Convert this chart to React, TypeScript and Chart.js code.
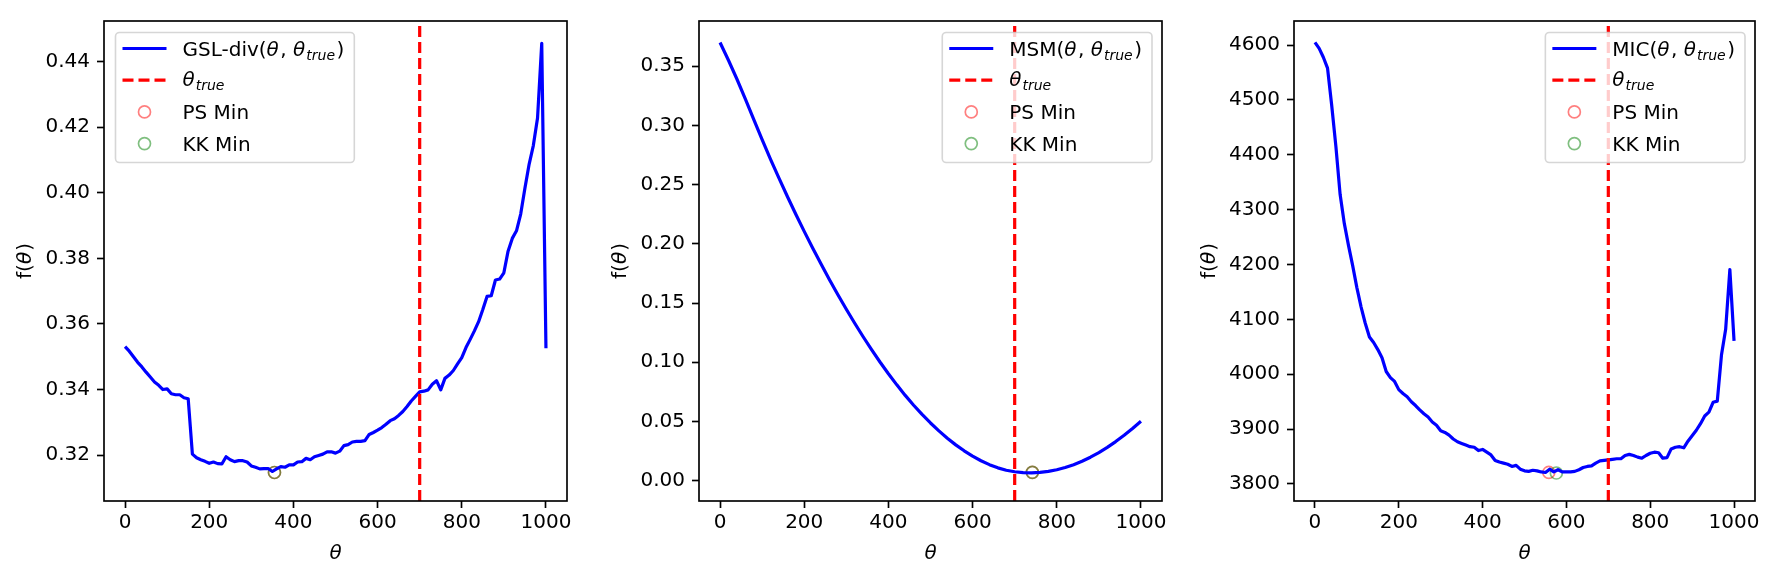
import React, { useEffect, useRef } from "react";
import { Chart, registerables } from "chart.js";

Chart.register(...registerables);

const FONT = "'DejaVu Sans', 'Liberation Sans', sans-serif";

// θ grid of the sampled objectives
const theta: number[] = [
  0, 10, 20, 30, 40, 50, 60, 70, 80, 90,
  100, 110, 120, 130, 140, 150, 160, 170, 180, 190,
  200, 210, 220, 230, 240, 250, 260, 270, 280, 290,
  300, 310, 320, 330, 340, 350, 360, 370, 380, 390,
  400, 410, 420, 430, 440, 450, 460, 470, 480, 490,
  500, 510, 520, 530, 540, 550, 560, 570, 580, 590,
  600, 610, 620, 630, 640, 650, 660, 670, 680, 690,
  700, 710, 720, 730, 740, 750, 760, 770, 780, 790,
  800, 810, 820, 830, 840, 850, 860, 870, 880, 890,
  900, 910, 920, 930, 940, 950, 960, 970, 980, 990,
  1000,
];

const thetaMsm: number[] = [
  0, 20, 40, 60, 80, 100, 120, 140, 160, 180,
  200, 220, 240, 260, 280, 300, 320, 340, 360, 380,
  400, 420, 440, 460, 480, 500, 520, 540, 560, 580,
  600, 620, 640, 660, 680, 700, 720, 740, 760, 780,
  800, 820, 840, 860, 880, 900, 920, 940, 960, 980,
  1000,
];

const gslDiv: number[] = [
  0.3531, 0.3517, 0.35, 0.3483, 0.3469, 0.3453, 0.3438, 0.3423, 0.3413, 0.34,
  0.3402, 0.3387, 0.3384, 0.3384, 0.3375, 0.3372, 0.3203, 0.3192, 0.3186, 0.3181,
  0.3175, 0.3179, 0.3174, 0.3173, 0.3195, 0.3186, 0.318, 0.3183, 0.3183, 0.3179,
  0.3167, 0.3163, 0.3158, 0.3159, 0.3159, 0.315, 0.3158, 0.3165, 0.3163, 0.317,
  0.317, 0.3179, 0.318, 0.319, 0.3186, 0.3195, 0.3199, 0.3203, 0.321, 0.321,
  0.3206, 0.3212, 0.3229, 0.3232, 0.324, 0.3242, 0.3242, 0.3244, 0.3263, 0.3269,
  0.3276, 0.3284, 0.3294, 0.3305, 0.3311, 0.3321, 0.3333, 0.3348, 0.3365, 0.3379,
  0.3393, 0.3395, 0.3399, 0.3416, 0.3427, 0.3399, 0.3434, 0.3444, 0.3458, 0.3478,
  0.3497, 0.3528, 0.3553, 0.3579, 0.3607, 0.3644, 0.3684, 0.3686, 0.3734, 0.3737,
  0.3756, 0.3822, 0.3861, 0.3884, 0.3935, 0.4014, 0.4087, 0.4144, 0.4228, 0.4456,
  0.3526,
];

const msm: number[] = [
  0.37, 0.355, 0.3392, 0.3225, 0.3052, 0.288, 0.2714, 0.2555, 0.24, 0.225,
  0.2105, 0.1965, 0.1829, 0.1697, 0.157, 0.1447, 0.1329, 0.1215, 0.1106, 0.1002,
  0.0903, 0.0809, 0.072, 0.0637, 0.0559, 0.0487, 0.042, 0.0358, 0.0302, 0.0252,
  0.0207, 0.0168, 0.0135, 0.0108, 0.0088, 0.0075, 0.0068, 0.0066, 0.007, 0.0078,
  0.0092, 0.0111, 0.0135, 0.0164, 0.0198, 0.0237, 0.0281, 0.033, 0.0383, 0.044,
  0.0501,
];

const mic: number[] = [
  4605, 4594, 4578, 4558, 4490, 4415, 4328, 4275, 4235, 4198,
  4158, 4123, 4093, 4068, 4058, 4045, 4030, 4005, 3994, 3987,
  3972, 3965, 3959, 3950, 3943, 3935, 3928, 3922, 3913, 3907,
  3897, 3894, 3889, 3882, 3877, 3874, 3871, 3868, 3867, 3861,
  3863, 3858, 3853, 3843, 3840, 3838, 3836, 3832, 3834, 3827,
  3824, 3823, 3825, 3824, 3822, 3821, 3827, 3822, 3826, 3822,
  3822, 3822, 3823, 3826, 3830, 3832, 3833, 3838, 3842, 3843,
  3844, 3845, 3846, 3846, 3852, 3854, 3852, 3849, 3847, 3852,
  3856, 3858, 3857, 3847, 3848, 3864, 3867, 3868, 3866, 3878,
  3888, 3898, 3910, 3924, 3931, 3949, 3951, 4035, 4082, 4191,
  4061,
];

// minima found by the two optimisers: [θ, f(θ)]
const gslPsMin: number[] = [355, 0.3147];
const gslKkMin: number[] = [355, 0.3147];
const msmPsMin: number[] = [742, 0.007];
const msmKkMin: number[] = [742, 0.007];
const micPsMin: number[] = [558, 3821];
const micKkMin: number[] = [576, 3820];

const THETA_TRUE = 700;

const thetaTicks: number[] = [0, 200, 400, 600, 800, 1000];
const gslTicks: number[] = [0.32, 0.34, 0.36, 0.38, 0.4, 0.42, 0.44];
const msmTicks: number[] = [0, 0.05, 0.1, 0.15, 0.2, 0.25, 0.3, 0.35];
const micTicks: number[] = [3800, 3900, 4000, 4100, 4200, 4300, 4400, 4500, 4600];

const thetaRange: number[] = [-50, 1050];
const gslRange: number[] = [0.306, 0.4524];
const msmRange: number[] = [-0.0172, 0.3882];
const micRange: number[] = [3769, 4644];

type Seg = { t: string; it?: boolean; sub?: boolean; after?: number };

const SIZE = 20;

function segFont(s: Seg, size: number) {
  const sz = s.sub ? size * 0.7 : size;
  return `${s.it ? "italic " : ""}${sz}px ${FONT}`;
}

function richWidth(ctx: CanvasRenderingContext2D, segs: Seg[], size: number) {
  let w = 0;
  for (const s of segs) {
    ctx.font = segFont(s, size);
    w += ctx.measureText(s.t).width + (s.after || 0);
  }
  return w;
}

function drawRich(
  ctx: CanvasRenderingContext2D,
  segs: Seg[],
  x: number,
  y: number,
  size: number,
  align: "left" | "center"
) {
  const w = richWidth(ctx, segs, size);
  let cx = align === "center" ? x - w / 2 : x;
  ctx.textAlign = "left";
  ctx.textBaseline = "alphabetic";
  for (const s of segs) {
    ctx.font = segFont(s, size);
    ctx.fillText(s.t, cx, y + (s.sub ? 4 : 0));
    cx += ctx.measureText(s.t).width + (s.after || 0);
  }
}

type Panel = {
  key: string;
  name: string;
  xs: number[];
  ys: number[];
  ticks: number[];
  range: number[];
  decimals: number;
  ps: number[];
  kk: number[];
  legendSide: "left" | "right";
  canvasLeft: number;
  canvasWidth: number;
  plotLeft: number;
  plotRight: number;
};

const panels: Panel[] = [
  {
    key: "gsl", name: "GSL-div", xs: theta, ys: gslDiv, ticks: gslTicks, range: gslRange,
    decimals: 2, ps: gslPsMin, kk: gslKkMin, legendSide: "left",
    canvasLeft: 0, canvasWidth: 590, plotLeft: 104, plotRight: 567,
  },
  {
    key: "msm", name: "MSM", xs: thetaMsm, ys: msm, ticks: msmTicks, range: msmRange,
    decimals: 2, ps: msmPsMin, kk: msmKkMin, legendSide: "right",
    canvasLeft: 590, canvasWidth: 590, plotLeft: 699, plotRight: 1162,
  },
  {
    key: "mic", name: "MIC", xs: theta, ys: mic, ticks: micTicks, range: micRange,
    decimals: 0, ps: micPsMin, kk: micKkMin, legendSide: "right",
    canvasLeft: 1180, canvasWidth: 599, plotLeft: 1294, plotRight: 1755,
  },
];

const PS_COLOR = "rgba(255,0,0,0.5)";
const KK_COLOR = "rgba(0,128,0,0.5)";
const LINE_W = 3.2;
const DASH = [11, 5];

function decorPlugin(p: Panel) {
  return {
    id: "decor-" + p.key,
    afterDraw(chart: any) {
      const ctx: CanvasRenderingContext2D = chart.ctx;
      const a = chart.chartArea;
      ctx.save();

      // axes frame
      ctx.strokeStyle = "#000";
      ctx.lineWidth = 1.67;
      ctx.strokeRect(a.left, a.top, a.right - a.left, a.bottom - a.top);

      ctx.fillStyle = "#000";
      // x axis title
      drawRich(ctx, [{ t: "θ", it: true }], (a.left + a.right) / 2, a.bottom + 58, SIZE, "center");

      // y axis title, placed left of the widest tick label
      ctx.font = `${SIZE}px ${FONT}`;
      let maxW = 0;
      for (const v of p.ticks) maxW = Math.max(maxW, ctx.measureText(v.toFixed(p.decimals)).width);
      const yTitleX = a.left - 34.3 - maxW;
      ctx.save();
      ctx.translate(yTitleX, (a.top + a.bottom) / 2);
      ctx.rotate(-Math.PI / 2);
      drawRich(ctx, [{ t: "f(" }, { t: "θ", it: true, after: 1 }, { t: ")" }], 0, 6, SIZE, "center");
      ctx.restore();

      // legend
      const rows: { kind: string; color: string; dash: number[] | null; segs: Seg[]; base: number }[] = [
        {
          kind: "line", color: "#0000ff", dash: null, base: 7,
          segs: [
            { t: p.name + "(" },
            { t: "θ", it: true, after: 1.5 },
            { t: ", " },
            { t: "θ", it: true, after: 1 },
            { t: "true", it: true, sub: true, after: 1.5 },
            { t: ")" },
          ],
        },
        {
          kind: "line", color: "#ff0000", dash: DASH, base: 6,
          segs: [{ t: "θ", it: true, after: 1 }, { t: "true", it: true, sub: true }],
        },
        { kind: "marker", color: PS_COLOR, dash: null, base: 7, segs: [{ t: "PS Min" }] },
        { kind: "marker", color: KK_COLOR, dash: null, base: 7, segs: [{ t: "KK Min" }] },
      ];
      let tw = 0;
      for (const r of rows) tw = Math.max(tw, richWidth(ctx, r.segs, SIZE));
      const w = 67 + tw + 10;
      const h = 130;
      const x0 = p.legendSide === "left" ? a.left + 11.5 : a.right - 10 - w;
      const y0 = a.top + 11.5;

      const rad = 4;
      ctx.beginPath();
      ctx.moveTo(x0 + rad, y0);
      ctx.lineTo(x0 + w - rad, y0);
      ctx.arcTo(x0 + w, y0, x0 + w, y0 + rad, rad);
      ctx.lineTo(x0 + w, y0 + h - rad);
      ctx.arcTo(x0 + w, y0 + h, x0 + w - rad, y0 + h, rad);
      ctx.lineTo(x0 + rad, y0 + h);
      ctx.arcTo(x0, y0 + h, x0, y0 + h - rad, rad);
      ctx.lineTo(x0, y0 + rad);
      ctx.arcTo(x0, y0, x0 + rad, y0, rad);
      ctx.closePath();
      ctx.fillStyle = "rgba(255,255,255,0.8)";
      ctx.fill();
      ctx.strokeStyle = "rgba(204,204,204,0.8)";
      ctx.lineWidth = 1.6;
      ctx.stroke();

      rows.forEach((r, i) => {
        const cy = y0 + 16 + i * 31.7;
        if (r.kind === "line") {
          ctx.save();
          ctx.strokeStyle = r.color;
          ctx.lineWidth = LINE_W;
          ctx.lineCap = "butt";
          if (r.dash) ctx.setLineDash(r.dash);
          ctx.beginPath();
          ctx.moveTo(x0 + 7, cy);
          ctx.lineTo(x0 + 51, cy);
          ctx.stroke();
          ctx.restore();
        } else {
          ctx.save();
          ctx.strokeStyle = r.color;
          ctx.lineWidth = 1.7;
          ctx.beginPath();
          ctx.arc(x0 + 29, cy, 6, 0, Math.PI * 2);
          ctx.stroke();
          ctx.restore();
        }
        ctx.fillStyle = "#000";
        drawRich(ctx, r.segs, x0 + 67, cy + r.base, SIZE, "left");
      });

      ctx.restore();
    },
  };
}

function PanelChart({ p }: { p: Panel }) {
  const ref = useRef<HTMLCanvasElement | null>(null);

  useEffect(() => {
    if (!ref.current) return;
    const tickFont = { family: FONT, size: SIZE };
    const grid = {
      display: true,
      drawOnChartArea: false,
      drawTicks: true,
      tickLength: 7,
      tickWidth: 1.67,
      tickColor: "#000",
    };
    // Chart.js paints higher `order` first: markers at the bottom (PS, then KK over it),
    // the objective curve above them and the θ_true line on top.
    const chart = new Chart(ref.current, {
      type: "line",
      data: {
        datasets: [
          {
            label: "theta_true",
            data: [
              { x: THETA_TRUE, y: p.range[0] },
              { x: THETA_TRUE, y: p.range[1] },
            ],
            borderColor: "#ff0000",
            borderWidth: LINE_W,
            borderDash: DASH,
            pointRadius: 0,
            tension: 0,
            order: 0,
          },
          {
            label: p.name,
            data: p.xs.map((x, i) => ({ x, y: p.ys[i] })),
            borderColor: "#0000ff",
            borderWidth: LINE_W,
            borderJoinStyle: "round",
            pointRadius: 0,
            tension: 0,
            order: 1,
          },
          {
            label: "KK Min",
            data: [{ x: p.kk[0], y: p.kk[1] }],
            showLine: false,
            pointRadius: 6,
            pointBorderWidth: 1.7,
            pointBorderColor: KK_COLOR,
            pointBackgroundColor: "rgba(0,0,0,0)",
            order: 2,
          },
          {
            label: "PS Min",
            data: [{ x: p.ps[0], y: p.ps[1] }],
            showLine: false,
            pointRadius: 6,
            pointBorderWidth: 1.7,
            pointBorderColor: PS_COLOR,
            pointBackgroundColor: "rgba(0,0,0,0)",
            order: 3,
          },
        ],
      } as any,
      options: {
        responsive: false,
        animation: false,
        devicePixelRatio: 1,
        events: [],
        layout: {
          padding: { left: 0, right: p.canvasLeft + p.canvasWidth - p.plotRight, top: 21, bottom: 0 },
        },
        plugins: {
          legend: { display: false },
          tooltip: { enabled: false },
          title: { display: false },
        },
        scales: {
          x: {
            type: "linear",
            min: thetaRange[0],
            max: thetaRange[1],
            afterBuildTicks: (s: any) => {
              s.ticks = thetaTicks.map((v) => ({ value: v }));
            },
            afterFit: (s: any) => {
              s.height = 79;
            },
            ticks: {
              font: tickFont,
              color: "#000",
              padding: 3,
              maxRotation: 0,
              autoSkip: false,
              callback: (v: any) => String(v),
            },
            grid,
            border: { display: false },
          },
          y: {
            type: "linear",
            min: p.range[0],
            max: p.range[1],
            afterBuildTicks: (s: any) => {
              s.ticks = p.ticks.map((v) => ({ value: v }));
            },
            afterFit: (s: any) => {
              s.width = p.plotLeft - p.canvasLeft;
            },
            ticks: {
              font: tickFont,
              color: "#000",
              padding: 7,
              autoSkip: false,
              callback: (v: any) => Number(v).toFixed(p.decimals),
            },
            grid,
            border: { display: false },
          },
        },
      } as any,
      plugins: [decorPlugin(p)],
    });
    return () => chart.destroy();
  }, [p]);

  return (
    <canvas
      ref={ref}
      width={p.canvasWidth}
      height={580}
      style={{
        position: "absolute",
        left: p.canvasLeft,
        top: 0,
        width: p.canvasWidth,
        height: 580,
      }}
    />
  );
}

export default function App() {
  return (
    <div
      style={{
        position: "fixed",
        left: 0,
        top: 0,
        width: 1779,
        height: 580,
        background: "#ffffff",
        overflow: "hidden",
      }}
    >
      {panels.map((p) => (
        <PanelChart key={p.key} p={p} />
      ))}
    </div>
  );
}
